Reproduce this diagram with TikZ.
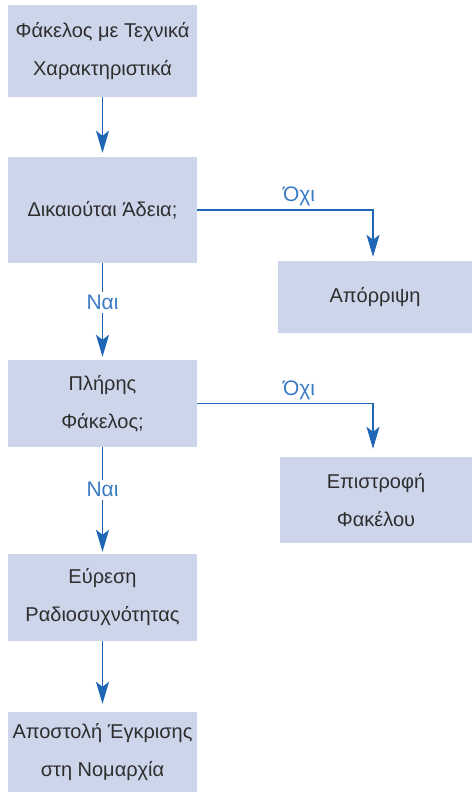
\documentclass[tikz,border=0pt]{standalone}
\usepackage{fontspec}
\setmainfont{Liberation Sans}
\usetikzlibrary{arrows.meta}
\definecolor{boxfill}{HTML}{CDD5EB}
\definecolor{flowblue}{HTML}{1F66B5}
\definecolor{lblblue}{HTML}{3A7CC4}
\definecolor{txtgrey}{HTML}{2E2E2E}
\tikzset{
  box/.style  ={fill=boxfill, text=txtgrey, align=center, inner sep=0pt,
                font=\fontsize{20}{38}\selectfont},
  flow/.style ={-{Stealth[length=22pt,width=13pt,inset=5pt]},
                line width=1.4pt, flowblue},
  lbl/.style  ={font=\fontsize{21}{24}\selectfont, text=lblblue},
  gaplbl/.style={lbl, fill=white, inner sep=3pt},
}

\begin{document}
\begin{tikzpicture}[x=1pt,y=-1pt]
  \useasboundingbox (0,0) rectangle (472,792);
  \node[box, minimum width=189pt, minimum height=92pt] (tech) at (102.5,51)
    {Φάκελος με Τεχνικά\\Χαρακτηριστικά};
  \node[box, minimum width=189pt, minimum height=106pt] (adeia) at (102.5,210)
    {Δικαιούται Άδεια;};
  \node[box, minimum width=194pt, minimum height=72pt] (aporr) at (375,297)
    {Απόρριψη};
  \node[box, minimum width=189pt, minimum height=87pt] (plir) at (102.5,403.5)
    {Πλήρης\\Φάκελος;};
  \node[box, minimum width=192pt, minimum height=86pt] (epistr) at (376,500)
    {Επιστροφή\\Φακέλου};
  \node[box, minimum width=189pt, minimum height=87pt] (freq) at (102.5,597.5)
    {Εύρεση\\Ραδιοσυχνότητας};
  \node[box, minimum width=189pt, minimum height=80pt] (nomar) at (102.5,752)
    {Αποστολή Έγκρισης\\στη Νομαρχία};
  \draw[flow, shorten >=4pt] (tech) -- (adeia);
  \draw[flow, shorten >=4pt] (adeia.east) -| node[lbl, pos=0.29, above=0pt] {Όχι}
    ([xshift=-2pt]aporr.north);
  \draw[flow, shorten >=3pt] (adeia) -- node[gaplbl, pos=0.41] {Ναι} (plir);
  \draw[flow, shorten >=8pt] (plir.east) -| node[lbl, pos=0.29, above=0pt] {Όχι}
    ([xshift=-3pt]epistr.north);
  \draw[flow, shorten >=2pt] (plir) -- node[gaplbl, pos=0.40] {Ναι} (freq);
  \draw[flow, shorten >=8pt] (freq) -- (nomar);
\end{tikzpicture}
\end{document}
